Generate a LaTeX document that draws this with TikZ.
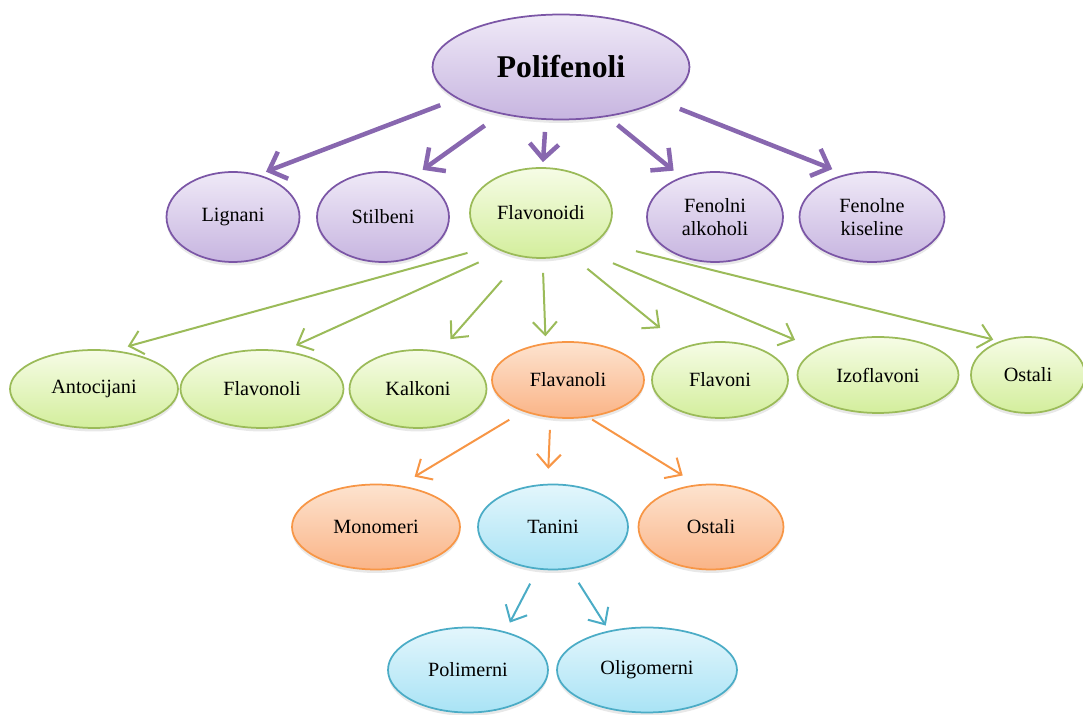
\documentclass[tikz,border=0pt]{standalone}
\usepackage{fontspec}
\setmainfont{Liberation Serif}
\usetikzlibrary{shapes.geometric,arrows.meta,shadows}

\definecolor{violetline}{HTML}{7B56A6}
\definecolor{violettop}{HTML}{EFE9F7}
\definecolor{violetbot}{HTML}{C7B5E0}
\definecolor{greenline}{HTML}{9BBB59}
\definecolor{greentop}{HTML}{F6FCE6}
\definecolor{greenbot}{HTML}{D3EE9C}
\definecolor{orangeline}{HTML}{F79646}
\definecolor{orangetop}{HTML}{FDE3CF}
\definecolor{orangebot}{HTML}{FAB487}
\definecolor{blueline}{HTML}{4BACC6}
\definecolor{bluetop}{HTML}{E3F6FC}
\definecolor{bluebot}{HTML}{A9E3F5}

\tikzstyle{bubble} = [ellipse, inner sep=0pt, align=center, font=\fontsize{11.5}{13.5}\selectfont, drop shadow={opacity=0.18, shadow xshift=0pt, shadow yshift=-0.7mm}]
\tikzstyle{violetbox} = [bubble, draw=violetline, line width=0.35mm, top color=violettop, bottom color=violetbot]
\tikzstyle{greenbox} = [bubble, draw=greenline, line width=0.35mm, top color=greentop, bottom color=greenbot]
\tikzstyle{orangebox} = [bubble, draw=orangeline, line width=0.35mm, top color=orangetop, bottom color=orangebot]
\tikzstyle{bluebox} = [bubble, draw=blueline, line width=0.35mm, top color=bluetop, bottom color=bluebot]
\tikzstyle{violetarrow} = [draw=violetline!90, line width=0.9mm, -{Straight Barb[length=3mm,width=5.8mm]}]
\tikzstyle{greenarrow} = [draw=greenline, line width=0.4mm, -{Straight Barb[length=2.6mm,width=4.8mm]}]
\tikzstyle{orangearrow} = [draw=orangeline, line width=0.4mm, -{Straight Barb[length=2.6mm,width=4.8mm]}]
\tikzstyle{bluearrow} = [draw=blueline, line width=0.4mm, -{Straight Barb[length=2.6mm,width=4.8mm]}]

\begin{document}
\begin{tikzpicture}[x=0.02cm, y=-0.02cm]
\useasboundingbox (0,0) rectangle (1083,715);

% top level
\node (poli) [violetbox, minimum width=51.4mm, minimum height=21mm, font=\bfseries\fontsize{18}{20}\selectfont] at (561,67) {Polifenoli};

% second level
\node (lignani) [violetbox, minimum width=26.6mm, minimum height=18mm] at (233,217) {Lignani};
\node (stilbeni) [violetbox, minimum width=26.4mm, minimum height=18mm] at (383,217) {Stilbeni};
\node (flavonoidi) [greenbox, minimum width=28.4mm, minimum height=18mm] at (541,213) {Flavonoidi};
\node (alkoholi) [violetbox, minimum width=27.2mm, minimum height=18mm] at (715,217) {Fenolni\\alkoholi};
\node (kiseline) [violetbox, minimum width=29mm, minimum height=18mm] at (872,217) {Fenolne\\kiseline};

% flavonoids
\node (antocijani) [greenbox, minimum width=33.6mm, minimum height=15.6mm] at (94,389) {Antocijani};
\node (flavonoli) [greenbox, minimum width=32.6mm, minimum height=15.6mm] at (262,389) {Flavonoli};
\node (kalkoni) [greenbox, minimum width=27.4mm, minimum height=15.6mm] at (418,389) {Kalkoni};
\node (flavanoli) [orangebox, minimum width=30.4mm, minimum height=15.2mm] at (568,380) {Flavanoli};
\node (flavoni) [greenbox, minimum width=27.2mm, minimum height=15.2mm] at (720,380) {Flavoni};
\node (izoflavoni) [greenbox, minimum width=32.2mm, minimum height=15.2mm] at (878,375) {Izoflavoni};
\node (ostali) [greenbox, minimum width=22.8mm, minimum height=15.2mm] at (1028,375) {Ostali};

% flavanols
\node (monomeri) [orangebox, minimum width=33.6mm, minimum height=17mm] at (376,527) {Monomeri};
\node (tanini) [bluebox, minimum width=30mm, minimum height=17mm] at (553,527) {Tanini};
\node (ostalib) [orangebox, minimum width=29mm, minimum height=17mm] at (711,527) {Ostali};

% tannins
\node (polimerni) [bluebox, minimum width=32mm, minimum height=17mm] at (468,670) {Polimerni};
\node (oligomerni) [bluebox, minimum width=36mm, minimum height=17mm] at (647,670) {Oligomerni};

\draw [violetarrow, shorten <=3.6mm, shorten >=1.6mm] (poli.197) -- (lignani.59);
\draw [violetarrow, shorten <=3.9mm, shorten >=2.2mm] (poli.218) -- (stilbeni.53);
\draw [violetarrow, shorten <=2.4mm, shorten >=1mm] (poli.254) -- (flavonoidi.88);
\draw [violetarrow, shorten <=2.6mm, shorten >=2mm] (poli.313) -- (alkoholi.130);
\draw [violetarrow, shorten <=4.2mm, shorten >=2.8mm] (poli.341) -- (kiseline.122);

\draw [greenarrow, shorten <=5mm, shorten >=2.9mm] (flavonoidi.214) -- (antocijani.63);
\draw [greenarrow, shorten <=5.2mm, shorten >=2.6mm] (flavonoidi.225) -- (flavonoli.60);
\draw [greenarrow, shorten <=6.2mm, shorten >=3.2mm] (flavonoidi.247) -- (kalkoni.60);
\draw [greenarrow, shorten <=2.8mm, shorten >=1.3mm] (flavonoidi.272) -- (flavanoli.121);
\draw [greenarrow, shorten <=4.4mm, shorten >=6mm] (flavonoidi.305) -- (flavoni.138);
\draw [greenarrow, shorten <=6.6mm, shorten >=4.8mm] (flavonoidi.318) -- (izoflavoni.157);
\draw [greenarrow, shorten <=8mm, shorten >=1.3mm] (flavonoidi.333) -- (ostali.130);

\draw [orangearrow, shorten <=3.2mm, shorten >=3.4mm] (flavanoli.215) -- (monomeri.60);
\draw [orangearrow, shorten <=2.4mm, shorten >=3mm] (flavanoli.245) -- (tanini.97);
\draw [orangearrow, shorten <=0.8mm, shorten >=3.4mm] (flavanoli.299) -- (ostalib.108);

\draw [bluearrow, shorten <=3.2mm, shorten >=2mm] (tanini.250) -- (polimerni.46);
\draw [bluearrow, shorten <=3.2mm, shorten >=1.2mm] (tanini.292) -- (oligomerni.134);

\end{tikzpicture}
\end{document}
